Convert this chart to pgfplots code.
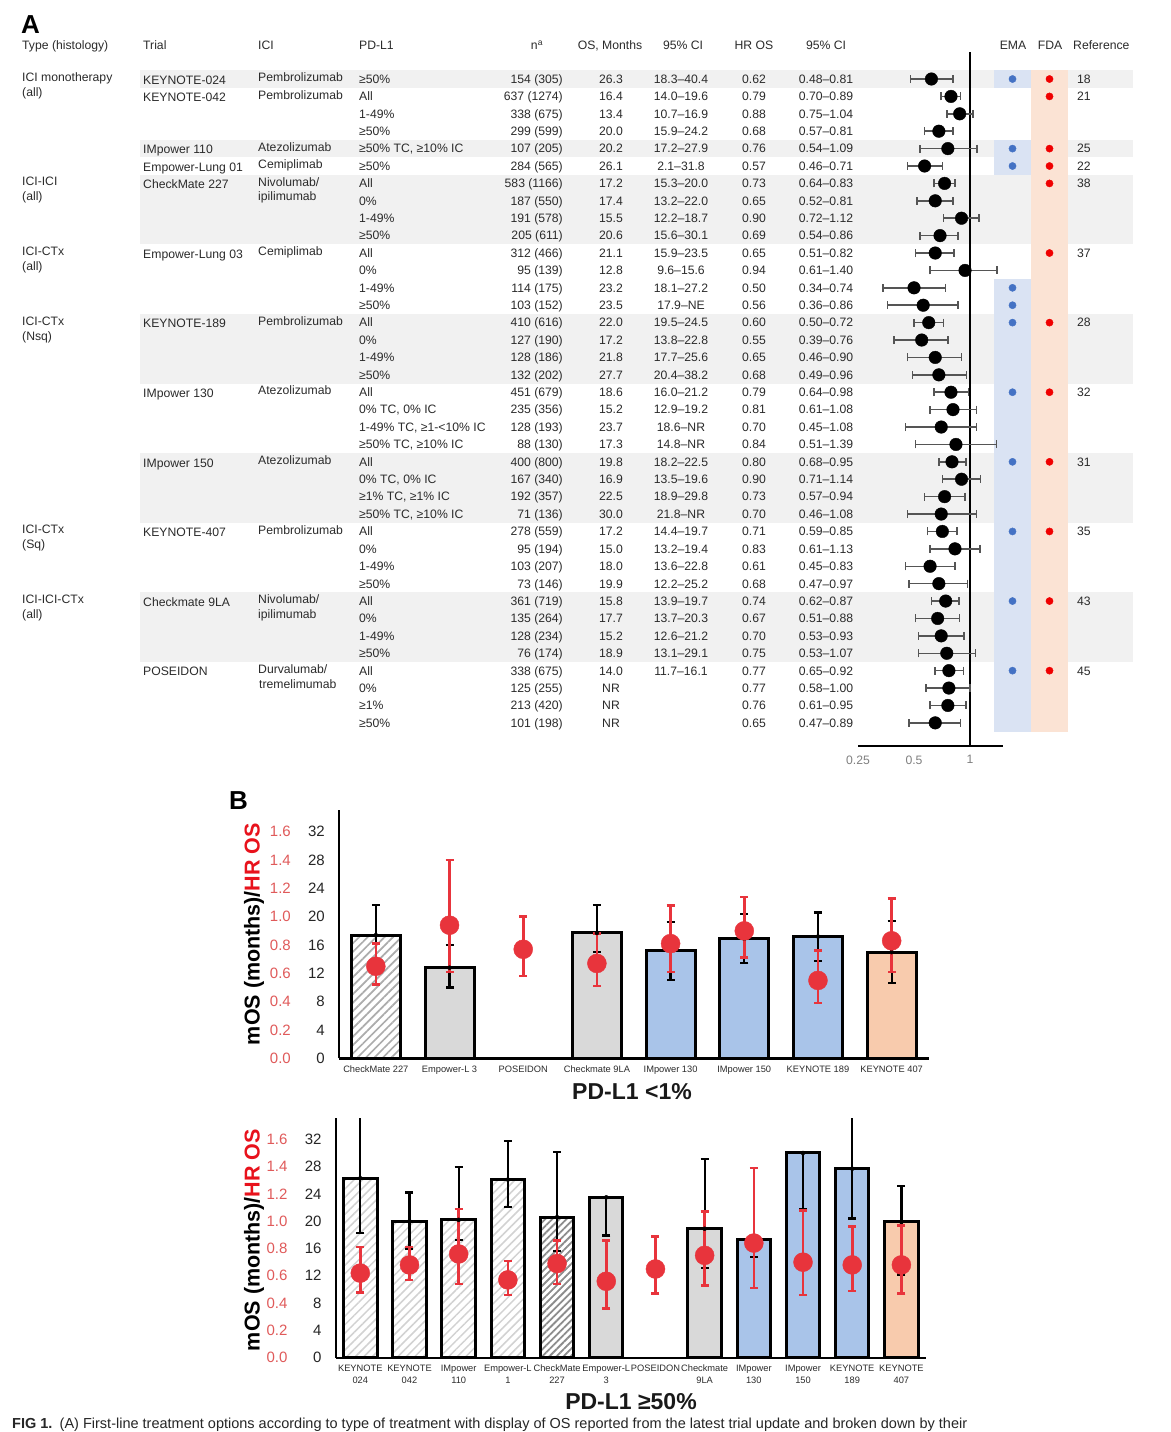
\documentclass[border=0pt]{standalone}
\usepackage{fontspec}
\setmainfont{Liberation Sans}
\usepackage{pgfplots}
\pgfplotsset{compat=1.18}
\usepackage{pgfplotstable}
\usetikzlibrary{patterns.meta}

\definecolor{txt}{HTML}{2B2B2B}
\definecolor{bandgray}{HTML}{F1F1F1}
\definecolor{emaband}{HTML}{DAE3F3}
\definecolor{fdaband}{HTML}{FBE3D4}
\definecolor{emadot}{HTML}{4472C4}
\definecolor{fdadot}{HTML}{F00000}
\definecolor{whisk}{HTML}{555555}
\definecolor{barblue}{HTML}{A9C4E9}
\definecolor{barsal}{HTML}{F8CBAD}
\definecolor{bargray}{HTML}{D9D9D9}
\definecolor{hrred}{HTML}{E8343C}
\definecolor{tickred}{HTML}{E05A5A}
\definecolor{labred}{HTML}{E8121C}

\newcommand\tf{\fontsize{12.2}{14}\selectfont}
\tikzset{
 tl/.style={anchor=base west, inner sep=0pt, font=\tf, text=txt},
 tr/.style={anchor=base east, inner sep=0pt, font=\tf, text=txt},
 tc/.style={anchor=base, inner sep=0pt, font=\tf, text=txt},
}
\newcommand\RW[9]{%
 \node[tl] at (axis cs:143,-#1-0.3) {#2};%
 \node[tl] at (axis cs:258,-#1-0.15) {#3};%
 \node[tl] at (axis cs:359,-#1-0.25) {#4};%
 \node[tr] at (axis cs:563,-#1-0.25) {#5};%
 \node[tc] at (axis cs:611,-#1-0.25) {#6};%
 \node[tc] at (axis cs:681,-#1-0.25) {#7};%
 \node[tc] at (axis cs:754,-#1-0.25) {#8};%
 \node[tc] at (axis cs:826,-#1-0.25) {#9};%
}
\newcommand\TY[3]{%
 \node[tl] at (axis cs:22,-#1-0.14) {#2};%
 \node[tl] at (axis cs:22,-#1-1.0) {#3};%
}
\newcommand\RF[2]{\node[tl] at (axis cs:1077,-#1-0.25) {#2};}

\pgfplotstableread{
r hr lo hi
1 0.62 0.48 0.81
2 0.79 0.70 0.89
3 0.88 0.75 1.04
4 0.68 0.57 0.81
5 0.76 0.54 1.09
6 0.57 0.46 0.71
7 0.73 0.64 0.83
8 0.65 0.52 0.81
9 0.90 0.72 1.12
10 0.69 0.54 0.86
11 0.65 0.51 0.82
12 0.94 0.61 1.40
13 0.50 0.34 0.74
14 0.56 0.36 0.86
15 0.60 0.50 0.72
16 0.55 0.39 0.76
17 0.65 0.46 0.90
18 0.68 0.49 0.96
19 0.79 0.64 0.98
20 0.81 0.61 1.08
21 0.70 0.45 1.08
22 0.84 0.51 1.39
23 0.80 0.68 0.95
24 0.90 0.71 1.14
25 0.73 0.57 0.94
26 0.70 0.46 1.08
27 0.71 0.59 0.85
28 0.83 0.61 1.13
29 0.61 0.45 0.83
30 0.68 0.47 0.97
31 0.74 0.62 0.87
32 0.67 0.51 0.88
33 0.70 0.53 0.93
34 0.75 0.53 1.07
35 0.77 0.65 0.92
36 0.77 0.58 1.00
37 0.76 0.61 0.95
38 0.65 0.47 0.89
}\forest

\pgfplotstableread{
i os lo hi
0 17.4 13.2 21.6
1 12.8 10.0 16.0
3 17.7 15.0 21.7
4 15.2 11.1 19.2
5 16.9 13.5 20.4
6 17.2 13.8 20.6
7 15.0 10.6 19.4
}\osTop
\pgfplotstableread{
i hr lo hi
0 0.65 0.52 0.81
1 0.94 0.61 1.40
2 0.77 0.58 1.00
3 0.67 0.51 0.88
4 0.81 0.61 1.08
5 0.90 0.71 1.14
6 0.55 0.39 0.76
7 0.83 0.61 1.13
}\hrTop
\pgfplotstableread{
i os lo hi
0 26.3 18.3 40.4
1 20.0 15.9 24.2
2 20.2 17.2 27.9
3 26.1 22.1 31.8
4 20.6 15.6 30.1
5 23.5 17.9 23.5
7 18.9 13.1 29.1
8 17.3 14.8 17.3
9 30.0 21.8 30.0
10 27.7 20.4 38.2
11 19.9 12.2 25.2
}\osBot
\pgfplotstableread{
i hr lo hi
0 0.62 0.48 0.81
1 0.68 0.57 0.81
2 0.76 0.54 1.09
3 0.57 0.46 0.71
4 0.69 0.54 0.86
5 0.56 0.36 0.86
6 0.65 0.47 0.89
7 0.75 0.53 1.07
8 0.84 0.51 1.39
9 0.70 0.46 1.08
10 0.68 0.49 0.96
11 0.68 0.47 0.97
}\hrBot

\pgfplotsset{
 barchart/.style={
  scale only axis, ymin=0, xmin=-0.5, clip=true,
  axis x line*=bottom, axis y line*=left,
  axis line style={-, line width=2.4pt, black},
  major tick length=0pt,
  ytick={0,4,...,32},
  /pgf/number format/assume math mode=true,
  yticklabel={\makebox[34pt][r]{\textcolor{tickred}{\pgfmathparse{\tick/20}\pgfmathprintnumber[fixed,fixed zerofill,precision=1]{\pgfmathresult}}}\makebox[34pt][r]{\pgfmathprintnumber{\tick}}},
  yticklabel style={anchor=east, inner sep=0pt, xshift=-14pt, font=\fontsize{15}{16}\selectfont, text=black!85},
  xticklabel style={font=\fontsize{9.3}{11.5}\selectfont, text=txt, align=center, yshift=-4pt},
 },
 bars/.style={ybar, bar shift=0pt, draw=black, line width=3pt},
 blackerr/.style={only marks, mark=none, error bars/.cd, y dir=both, y explicit,
   error mark=|,
   error bar style={draw=black, line width=2.2pt},
   error mark options={mark size=4pt, line width=2.2pt, draw=black}},
 rederr/.style={only marks, mark=*, mark size=9.5pt, color=hrred, error bars/.cd, y dir=both, y explicit,
   error mark=|,
   error bar style={draw=hrred, line width=2.6pt},
   error mark options={mark size=4pt, line width=2.6pt, draw=hrred}},
}

\begin{document}
\begin{tikzpicture}
\useasboundingbox (0,0) rectangle (1170pt,-1432pt);
\fill[white] (0,0) rectangle (1170pt,-1432pt);

% ---------- Panel A: table background, bands, dots and text
\begin{axis}[at={(0pt,-746pt)}, anchor=south west, scale only axis, width=1170pt, height=694pt,
  xmin=0, xmax=1170, ymin=-39.33, ymax=0.552, hide axis, clip=false]
 \addplot[draw=none, fill=bandgray] coordinates {(140,-0.5)(1133,-0.5)(1133,-1.5)(140,-1.5)} -- cycle;
 \addplot[draw=none, fill=bandgray] coordinates {(140,-4.5)(1133,-4.5)(1133,-5.5)(140,-5.5)} -- cycle;
 \addplot[draw=none, fill=bandgray] coordinates {(140,-6.5)(1133,-6.5)(1133,-10.5)(140,-10.5)} -- cycle;
 \addplot[draw=none, fill=bandgray] coordinates {(140,-14.5)(1133,-14.5)(1133,-18.5)(140,-18.5)} -- cycle;
 \addplot[draw=none, fill=bandgray] coordinates {(140,-22.5)(1133,-22.5)(1133,-26.5)(140,-26.5)} -- cycle;
 \addplot[draw=none, fill=bandgray] coordinates {(140,-30.5)(1133,-30.5)(1133,-34.5)(140,-34.5)} -- cycle;
 \addplot[draw=none, fill=emaband] coordinates {(994,-0.5)(1031,-0.5)(1031,-1.5)(994,-1.5)} -- cycle;
 \addplot[draw=none, fill=emaband] coordinates {(994,-4.5)(1031,-4.5)(1031,-6.5)(994,-6.5)} -- cycle;
 \addplot[draw=none, fill=emaband] coordinates {(994,-12.5)(1031,-12.5)(1031,-38.5)(994,-38.5)} -- cycle;
 \addplot[draw=none, fill=fdaband] coordinates {(1031,-0.5)(1068,-0.5)(1068,-38.5)(1031,-38.5)} -- cycle;
 \addplot[only marks, mark=*, mark size=3.6pt, color=emadot] coordinates {
  (1012.5,-1)(1012.5,-5)(1012.5,-6)(1012.5,-13)(1012.5,-14)(1012.5,-15)(1012.5,-19)
  (1012.5,-23)(1012.5,-27)(1012.5,-31)(1012.5,-35)};
 \addplot[only marks, mark=*, mark size=3.6pt, color=fdadot] coordinates {
  (1049.5,-1)(1049.5,-2)(1049.5,-5)(1049.5,-6)(1049.5,-7)(1049.5,-11)(1049.5,-15)
  (1049.5,-19)(1049.5,-23)(1049.5,-27)(1049.5,-31)(1049.5,-35)};
 % headers
 \node[tl] at (axis cs:22,0.695) {Type (histology)};
 \node[tl] at (axis cs:143,0.695) {Trial};
 \node[tl] at (axis cs:258,0.695) {ICI};
 \node[tl] at (axis cs:359,0.695) {PD-L1};
 \node[tc] at (axis cs:537,0.695) {n\textsuperscript{a}};
 \node[tc] at (axis cs:610,0.695) {OS, Months};
 \node[tc] at (axis cs:683,0.695) {95\% CI};
 \node[tc] at (axis cs:754,0.695) {HR OS};
 \node[tc] at (axis cs:826,0.695) {95\% CI};
 \node[tc] at (axis cs:1013,0.695) {EMA};
 \node[tc] at (axis cs:1050,0.695) {FDA};
 \node[tl] at (axis cs:1073,0.695) {Reference};
 % type labels
 \TY{1}{ICI monotherapy}{(all)}
 \TY{7}{ICI-ICI}{(all)}
 \TY{11}{ICI-CTx}{(all)}
 \TY{15}{ICI-CTx}{(Nsq)}
 \TY{27}{ICI-CTx}{(Sq)}
 \TY{31}{ICI-ICI-CTx}{(all)}
 % rows
 \RW{1}{KEYNOTE-024}{Pembrolizumab}{≥50\%}{154 (305)}{26.3}{18.3–40.4}{0.62}{0.48–0.81}
 \RW{2}{KEYNOTE-042}{Pembrolizumab}{All}{637 (1274)}{16.4}{14.0–19.6}{0.79}{0.70–0.89}
 \RW{3}{}{}{1-49\%}{338 (675)}{13.4}{10.7–16.9}{0.88}{0.75–1.04}
 \RW{4}{}{}{≥50\%}{299 (599)}{20.0}{15.9–24.2}{0.68}{0.57–0.81}
 \RW{5}{IMpower 110}{Atezolizumab}{≥50\% TC, ≥10\% IC}{107 (205)}{20.2}{17.2–27.9}{0.76}{0.54–1.09}
 \RW{6}{Empower-Lung 01}{Cemiplimab}{≥50\%}{284 (565)}{26.1}{2.1–31.8}{0.57}{0.46–0.71}
 \RW{7}{CheckMate 227}{Nivolumab/}{All}{583 (1166)}{17.2}{15.3–20.0}{0.73}{0.64–0.83}
 \RW{8}{}{}{0\%}{187 (550)}{17.4}{13.2–22.0}{0.65}{0.52–0.81}
 \RW{9}{}{}{1-49\%}{191 (578)}{15.5}{12.2–18.7}{0.90}{0.72–1.12}
 \RW{10}{}{}{≥50\%}{205 (611)}{20.6}{15.6–30.1}{0.69}{0.54–0.86}
 \RW{11}{Empower-Lung 03}{Cemiplimab}{All}{312 (466)}{21.1}{15.9–23.5}{0.65}{0.51–0.82}
 \RW{12}{}{}{0\%}{95 (139)}{12.8}{9.6–15.6}{0.94}{0.61–1.40}
 \RW{13}{}{}{1-49\%}{114 (175)}{23.2}{18.1–27.2}{0.50}{0.34–0.74}
 \RW{14}{}{}{≥50\%}{103 (152)}{23.5}{17.9–NE}{0.56}{0.36–0.86}
 \RW{15}{KEYNOTE-189}{Pembrolizumab}{All}{410 (616)}{22.0}{19.5–24.5}{0.60}{0.50–0.72}
 \RW{16}{}{}{0\%}{127 (190)}{17.2}{13.8–22.8}{0.55}{0.39–0.76}
 \RW{17}{}{}{1-49\%}{128 (186)}{21.8}{17.7–25.6}{0.65}{0.46–0.90}
 \RW{18}{}{}{≥50\%}{132 (202)}{27.7}{20.4–38.2}{0.68}{0.49–0.96}
 \RW{19}{IMpower 130}{Atezolizumab}{All}{451 (679)}{18.6}{16.0–21.2}{0.79}{0.64–0.98}
 \RW{20}{}{}{0\% TC, 0\% IC}{235 (356)}{15.2}{12.9–19.2}{0.81}{0.61–1.08}
 \RW{21}{}{}{1-49\% TC, ≥1-<10\% IC}{128 (193)}{23.7}{18.6–NR}{0.70}{0.45–1.08}
 \RW{22}{}{}{≥50\% TC, ≥10\% IC}{88 (130)}{17.3}{14.8–NR}{0.84}{0.51–1.39}
 \RW{23}{IMpower 150}{Atezolizumab}{All}{400 (800)}{19.8}{18.2–22.5}{0.80}{0.68–0.95}
 \RW{24}{}{}{0\% TC, 0\% IC}{167 (340)}{16.9}{13.5–19.6}{0.90}{0.71–1.14}
 \RW{25}{}{}{≥1\% TC, ≥1\% IC}{192 (357)}{22.5}{18.9–29.8}{0.73}{0.57–0.94}
 \RW{26}{}{}{≥50\% TC, ≥10\% IC}{71 (136)}{30.0}{21.8–NR}{0.70}{0.46–1.08}
 \RW{27}{KEYNOTE-407}{Pembrolizumab}{All}{278 (559)}{17.2}{14.4–19.7}{0.71}{0.59–0.85}
 \RW{28}{}{}{0\%}{95 (194)}{15.0}{13.2–19.4}{0.83}{0.61–1.13}
 \RW{29}{}{}{1-49\%}{103 (207)}{18.0}{13.6–22.8}{0.61}{0.45–0.83}
 \RW{30}{}{}{≥50\%}{73 (146)}{19.9}{12.2–25.2}{0.68}{0.47–0.97}
 \RW{31}{Checkmate 9LA}{Nivolumab/}{All}{361 (719)}{15.8}{13.9–19.7}{0.74}{0.62–0.87}
 \RW{32}{}{}{0\%}{135 (264)}{17.7}{13.7–20.3}{0.67}{0.51–0.88}
 \RW{33}{}{}{1-49\%}{128 (234)}{15.2}{12.6–21.2}{0.70}{0.53–0.93}
 \RW{34}{}{}{≥50\%}{76 (174)}{18.9}{13.1–29.1}{0.75}{0.53–1.07}
 \RW{35}{POSEIDON}{Durvalumab/}{All}{338 (675)}{14.0}{11.7–16.1}{0.77}{0.65–0.92}
 \RW{36}{}{}{0\%}{125 (255)}{NR}{}{0.77}{0.58–1.00}
 \RW{37}{}{}{≥1\%}{213 (420)}{NR}{}{0.76}{0.61–0.95}
 \RW{38}{}{}{≥50\%}{101 (198)}{NR}{}{0.65}{0.47–0.89}
 \node[tl] at (axis cs:258,-7-1.01) {ipilimumab};
 \node[tl] at (axis cs:258,-31-1.01) {ipilimumab};
 \node[tl] at (axis cs:259,-35-1.01) {tremelimumab};
 \RF{1}{18}\RF{2}{21}\RF{5}{25}\RF{6}{22}\RF{7}{38}\RF{11}{37}
 \RF{15}{28}\RF{19}{32}\RF{23}{31}\RF{27}{35}\RF{31}{43}\RF{35}{45}
\end{axis}

% ---------- Panel A: forest plot
\begin{axis}[at={(858pt,-746pt)}, anchor=south west, scale only axis, width=144.8pt, height=694pt,
  xmode=log, log basis x=2, xmin=0.25, xmax=1.5, ymin=-39.33, ymax=0.552,
  axis y line=none, axis x line*=bottom, axis line style={-, line width=1.5pt, black},
  xtick={0.25,0.5,1}, xticklabels={0.25,0.5,1}, major tick length=0pt,
  xticklabel style={font=\tf, text=gray, yshift=-6pt}, clip=false]
 \addplot[black, line width=1.6pt] coordinates {(1,0.552)(1,-39.33)};
 \addplot[only marks, mark=*, mark size=6.3pt, black,
   error bars/.cd, x dir=both, x explicit, error mark=|,
   error bar style={draw=whisk, line width=1.5pt},
   error mark options={mark size=4pt, line width=1.5pt, draw=whisk}]
   table[x=hr, y expr=-\thisrow{r}, x error plus expr=\thisrow{hi}-\thisrow{hr}, x error minus expr=\thisrow{hr}-\thisrow{lo}] {\forest};
\end{axis}

\node[anchor=base west, inner sep=0pt, font=\bfseries\fontsize{26}{26}\selectfont] at (21pt,-33pt) {A};
\node[anchor=base west, inner sep=0pt, font=\bfseries\fontsize{26}{26}\selectfont] at (229pt,-809pt) {B};

% ---------- Panel B top: PD-L1 <1%
\begin{axis}[barchart, at={(339pt,-1058.3pt)}, anchor=south west, width=589.5pt, height=248.3pt,
  ymax=35.07, xmax=7.5, xtick={0,...,7},
  xticklabels={CheckMate 227,Empower-L 3,POSEIDON,Checkmate 9LA,IMpower 130,IMpower 150,KEYNOTE 189,KEYNOTE 407}]
 \addplot[bars, bar width=0.665, pattern={Lines[angle=45,distance=6pt,line width=1.7pt]}, pattern color=gray!65] coordinates {(0,17.4)};
 \addplot[bars, bar width=0.665, fill=bargray] coordinates {(1,12.8)(3,17.7)};
 \addplot[bars, bar width=0.665, fill=barblue] coordinates {(4,15.2)(5,16.9)(6,17.2)};
 \addplot[bars, bar width=0.665, fill=barsal] coordinates {(7,15.0)};
 \addplot[blackerr] table[x=i, y=os, y error plus expr=\thisrow{hi}-\thisrow{os}, y error minus expr=\thisrow{os}-\thisrow{lo}] {\osTop};
 \addplot[rederr] table[x=i, y expr=20*\thisrow{hr}, y error plus expr=20*(\thisrow{hi}-\thisrow{hr}), y error minus expr=20*(\thisrow{hr}-\thisrow{lo})] {\hrTop};
\end{axis}
\node[rotate=90, font=\bfseries\fontsize{21.5}{22}\selectfont] at (254pt,-934pt) {mOS (months)/\textcolor{labred}{HR OS}};
\node[font=\bfseries\fontsize{23}{24}\selectfont, text=black!90] at (632pt,-1092pt) {PD-L1 <1\%};

% ---------- Panel B bottom: PD-L1 >=50%
\begin{axis}[barchart, at={(335.7pt,-1357.7pt)}, anchor=south west, width=590.3pt, height=239.4pt,
  ymax=35.08, xmax=11.5, xtick={0,...,11},
  xticklabels={{KEYNOTE\\024},{KEYNOTE\\042},{IMpower\\110},{Empower-L\\1},{CheckMate\\227},{Empower-L\\3},{POSEIDON\\ },{Checkmate\\9LA},{IMpower\\130},{IMpower\\150},{KEYNOTE\\189},{KEYNOTE\\407}}]
 \addplot[bars, bar width=0.68, pattern={Lines[angle=45,distance=6pt,line width=1.5pt]}, pattern color=gray!35] coordinates {(0,26.3)(1,20.0)(2,20.2)(3,26.1)};
 \addplot[bars, bar width=0.68, pattern={Lines[angle=45,distance=5pt,line width=1.8pt]}, pattern color=gray!90] coordinates {(4,20.6)};
 \addplot[bars, bar width=0.68, fill=bargray] coordinates {(5,23.5)(7,18.9)};
 \addplot[bars, bar width=0.68, fill=barblue] coordinates {(8,17.3)(9,30.0)(10,27.7)};
 \addplot[bars, bar width=0.68, fill=barsal] coordinates {(11,19.9)};
 \addplot[blackerr] table[x=i, y=os, y error plus expr=\thisrow{hi}-\thisrow{os}, y error minus expr=\thisrow{os}-\thisrow{lo}] {\osBot};
 \addplot[rederr] table[x=i, y expr=20*\thisrow{hr}, y error plus expr=20*(\thisrow{hi}-\thisrow{hr}), y error minus expr=20*(\thisrow{hr}-\thisrow{lo})] {\hrBot};
\end{axis}
\node[rotate=90, font=\bfseries\fontsize{21.5}{22}\selectfont] at (254pt,-1240pt) {mOS (months)/\textcolor{labred}{HR OS}};
\node[font=\bfseries\fontsize{23}{24}\selectfont, text=black!90] at (631pt,-1402pt) {PD-L1 ≥50\%};

\node[anchor=base west, inner sep=0pt, font=\fontsize{14.5}{15}\selectfont, text=black!85] at (12pt,-1428.5pt) {\textbf{FIG 1.}\enspace (A) First-line treatment options according to type of treatment with display of OS reported from the latest trial update and broken down by their};
\end{tikzpicture}
\end{document}
